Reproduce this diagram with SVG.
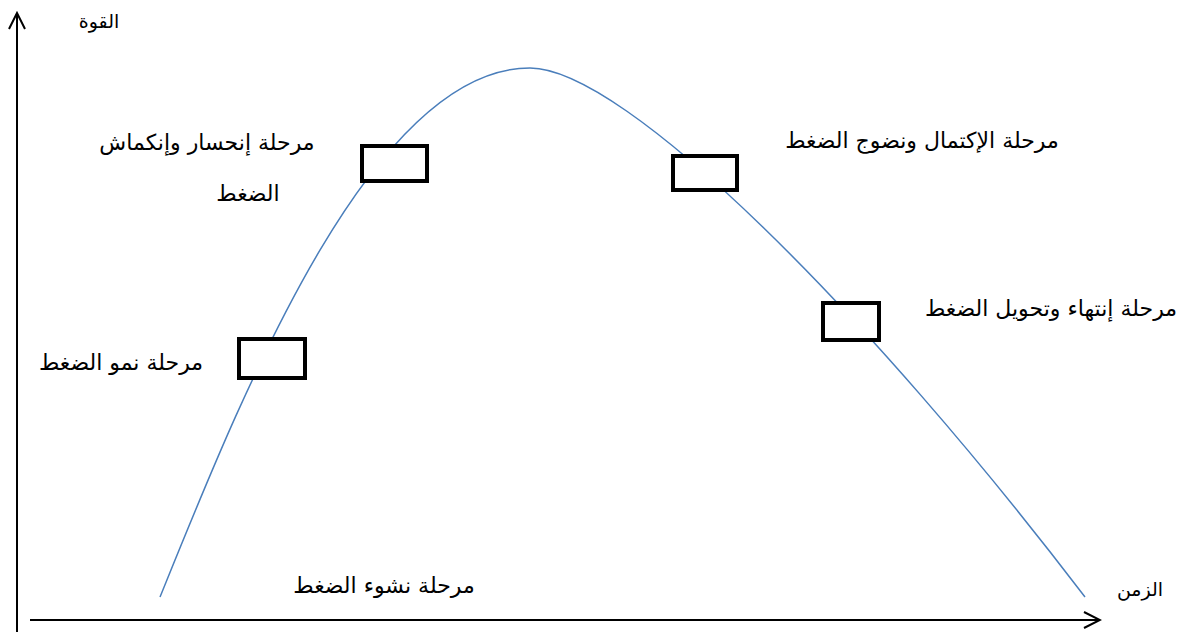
<svg xmlns="http://www.w3.org/2000/svg" width="1195" height="632" viewBox="0 0 1195 632">
  <style>
    .axis { stroke: #000; stroke-width: 2; fill: none; }
    .curve { stroke: #4a7ebb; stroke-width: 1.5; fill: none; }
    .box { stroke: #000; stroke-width: 4; fill: #fff; }
    .lbl { font-family: "DejaVu Sans", "Noto Sans", sans-serif; font-size: 22px; fill: #000; text-anchor: middle; }
    .ax { font-size: 19px; }
  </style>
  <defs>
    <marker id="open" viewBox="0 0 20 20" refX="18" refY="10" markerWidth="20" markerHeight="20" markerUnits="userSpaceOnUse" orient="auto">
      <path d="M2,2 L18,10 L2,18" fill="none" stroke="#000" stroke-width="2"/>
    </marker>
  </defs>
  <rect width="1195" height="632" fill="#fff"/>

  <!-- axes and curve -->
  <g id="connectors">
    <line class="axis" x1="17" y1="632" x2="17" y2="13" marker-end="url(#open)"/>
    <line class="axis" x1="30" y1="620" x2="1100" y2="620" marker-end="url(#open)"/>
    <path class="curve" d="M160,597 C240,400 370,68 530,68 C625,68 870,315 1085,597"/>
  </g>

  <g id="box-growth"><rect class="box" x="239" y="339" width="66" height="39"/></g>
  <g id="box-recede"><rect class="box" x="362" y="146" width="65" height="35"/></g>
  <g id="box-complete"><rect class="box" x="673" y="156" width="64" height="34"/></g>
  <g id="box-end"><rect class="box" x="823" y="303" width="56" height="37"/></g>

  <g id="labels">
    <text class="lbl ax" x="99" y="28">القوة</text>
    <text class="lbl ax" x="1140" y="596">الزمن</text>
    <text class="lbl" x="207" y="150">مرحلة إنحسار وإنكماش</text>
    <text class="lbl" x="248" y="201">الضغط</text>
    <text class="lbl" x="121" y="370">مرحلة نمو الضغط</text>
    <text class="lbl" x="922" y="148">مرحلة الإكتمال ونضوج الضغط</text>
    <text class="lbl" x="1051" y="316">مرحلة إنتهاء وتحويل الضغط</text>
    <text class="lbl" x="384" y="593">مرحلة نشوء الضغط</text>
  </g>
</svg>
